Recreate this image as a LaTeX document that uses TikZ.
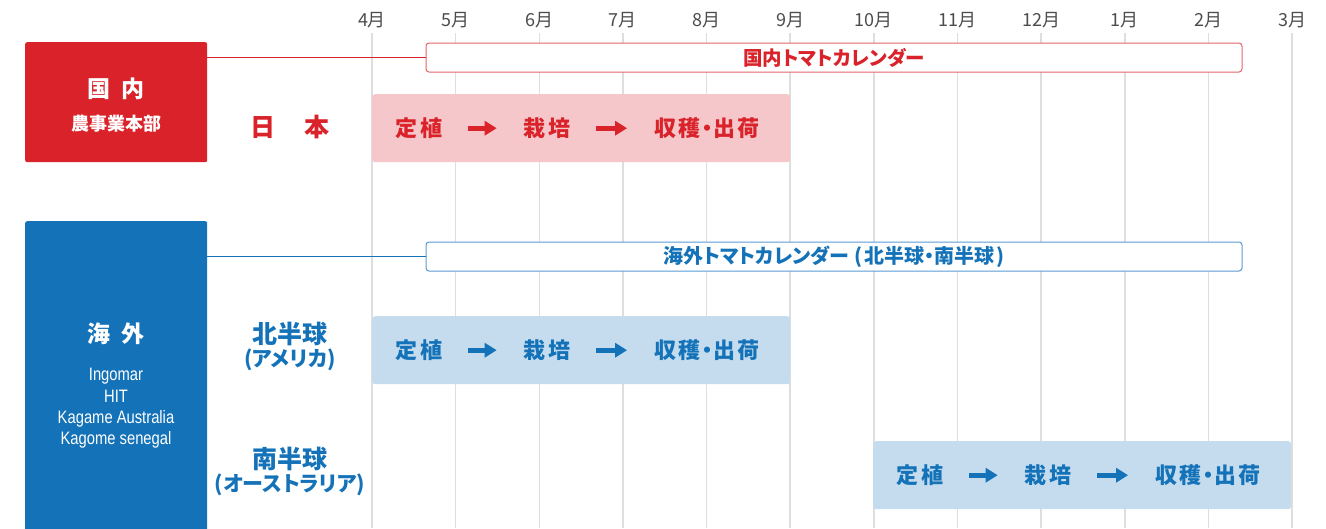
\documentclass[tikz,border=0pt]{standalone}
\usepackage{fontspec}
\setmainfont{Noto Sans CJK JP}[RawFeature=+palt]
\newfontfamily\flowfont{Noto Sans CJK JP}[LetterSpace=10,RawFeature=+palt]
\newfontfamily\plainfont{Noto Sans CJK JP}
\newfontfamily\narrowfont{Liberation Sans}[FakeStretch=0.82]
\usetikzlibrary{arrows.meta,positioning}
\tikzset{>=Triangle}
\definecolor{r1}{HTML}{D9222A}
\definecolor{r2}{HTML}{F5C7CA}
\definecolor{r3}{HTML}{E4646D}
\definecolor{b1}{HTML}{1472B8}
\definecolor{b2}{HTML}{C4DCEE}
\definecolor{b3}{HTML}{5A9AD4}
\definecolor{g1}{HTML}{DEDEDE}
\newcommand\fs[1]{\fontsize{#1}{#1}\selectfont}
\tikzstyle{gridline}=[g1,line width=1.5pt]
\tikzstyle{month}=[inner sep=0pt,text=black!70,font=\plainfont\fs{18}]
\tikzstyle{hqbox}=[anchor=north west,rounded corners=2pt,minimum width=182pt,inner sep=0pt]
\tikzstyle{hqtitle}=[inner sep=0pt,text=white,font=\fs{23}\bfseries]
\tikzstyle{hqsub}=[inner sep=0pt,text=white,font=\fs{18}\bfseries]
\tikzstyle{company}=[anchor=base,inner sep=0pt,text=white,font=\narrowfont\fs{18}]
\tikzstyle{region}=[inner sep=0pt,font=\fs{25}\bfseries]
\tikzstyle{regionsub}=[inner sep=0pt,font=\fs{21}\bfseries]
\tikzstyle{calbox}=[fill=white,line width=1pt,rounded corners=3pt,minimum width=816pt,minimum height=29pt,inner sep=0pt,font=\fs{19.5}\bfseries]
\tikzstyle{flowbox}=[anchor=north west,rounded corners=3pt,minimum width=418pt,minimum height=68pt,inner sep=0pt]
\tikzstyle{flowtext}=[inner sep=0pt,font=\flowfont\fs{22}\bfseries]
\tikzstyle{flowarrow}=[line width=5pt,-{Triangle[length=12pt,width=14pt]},shorten <=26pt,shorten >=27pt]

\begin{document}
\begin{tikzpicture}[x=1pt,y=-1pt]
  \useasboundingbox (0,0) rectangle (1326,528);
  % months
  \foreach \m [count=\i from 0] in {4,5,6,7,8,9,10,11,12,1,2,3} {
    \draw[gridline] (372+83.64*\i,33) -- (372+83.64*\i,528);
    \node[month] (m\i) at (372+83.64*\i,20) {\m 月};
  }
  % head offices
  \node[hqbox,fill=r1,minimum height=120pt] (jpHQ) at (25,42) {};
  \node[hqtitle] (jpTitle) at (116,89) {国\hspace{0.5em}内};
  \node[hqsub] (jpDept) at (116,124) {農事業本部};
  \node[hqbox,fill=b1,minimum height=330pt] (osHQ) at (25,221) {};
  \node[hqtitle] (osTitle) at (116,334) {海\hspace{0.45em}外};
  \foreach \name [count=\i] in {Ingomar,HIT,Kagame Australia,Kagome senegal}
    \node[company] (comp\i) at (116,359.5+21.3*\i) {\name};
  % regions
  \node[region,text=r1] (jpName) at (290,127) {日\hspace{1.2em}本};
  \node[region,text=b1] (naName) at (290,334) {北半球};
  \node[regionsub,text=b1] (naSub) at (290,360) {(アメリカ)};
  \node[region,text=b1] (saName) at (290,459) {南半球};
  \node[regionsub,text=b1] (saSub) at (290,485) {(オーストラリア)};
  % calendars
  \node[calbox,draw=r3,text=r1] (jpCal) at (834,57.5) {国内トマトカレンダー};
  \node[calbox,draw=b3,text=b1,font=\fs{20}\bfseries] (osCal) at (834,256.5)
    {海外トマトカレンダー\kern5pt(\kern2pt北半球・南半球\kern2pt)};
  \draw[r1,line width=1pt] (jpHQ.east |- jpCal.west) -- (jpCal.west);
  \draw[b1,line width=1pt] (osHQ.east |- osCal.west) -- (osCal.west);
  % flow rows
  \foreach \r/\x/\y/\c/\f in {jp/372/94/r1/r2,na/372/316/b1/b2,sa/873/441/b1/b2} {
    \node[flowbox,fill=\f] (\r-flow) at (\x,\y) {};
    \node[flowtext,text=\c] (\r-plant) at ([xshift=47pt]\r-flow.west) {定植};
    \node[flowtext,text=\c] (\r-grow) at ([xshift=175pt]\r-flow.west) {栽培};
    \node[flowtext,text=\c] (\r-ship) at ([xshift=335pt]\r-flow.west) {収穫\kern1pt・\kern1pt出荷};
    \draw[flowarrow,\c] (\r-plant) -- (\r-grow);
    \draw[flowarrow,\c] (\r-grow) -- (\r-ship);
  }
\end{tikzpicture}
\end{document}
